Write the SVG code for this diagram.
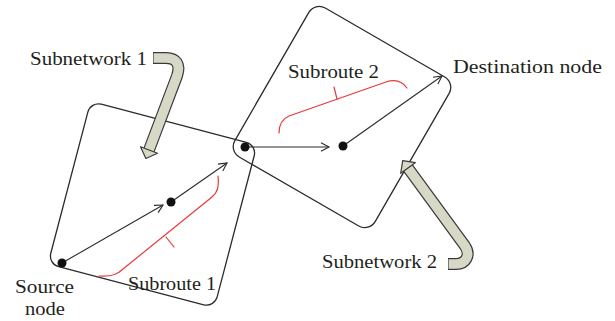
<svg xmlns="http://www.w3.org/2000/svg" width="615" height="321" viewBox="0 0 615 321">
  <style>
    .box { fill: none; stroke: #2b2b2b; stroke-width: 1.3; }
    .link { fill: none; stroke: #2b2b2b; stroke-width: 1.1; marker-end: url(#open); }
    .dot { fill: #111; }
    .brace { fill: none; stroke: #e8393c; stroke-width: 1.2; stroke-linecap: round; stroke-linejoin: round; }
    .label { font-family: "Liberation Serif", "Times New Roman", serif; font-size: 18px; fill: #231f20; }
    .fat-edge { fill: none; stroke: #3a3a3a; stroke-width: 12; }
    .fat-fill { fill: none; stroke: #d7d9c6; stroke-width: 9.6; }
    .fat-head { fill: #d7d9c6; stroke: #3a3a3a; stroke-width: 1.2; stroke-linejoin: round; }
  </style>
  <defs>
    <marker id="open" markerUnits="userSpaceOnUse" markerWidth="12" markerHeight="12" viewBox="-10 -6 12 12" refX="0" refY="0" orient="auto">
      <path d="M-8,-4.2 L0,0 L-8,4.2" fill="none" stroke="#2b2b2b" stroke-width="1.1"/>
    </marker>
  </defs>

  <!-- subnetwork regions -->
  <g id="subnetwork-1">
    <rect class="box" x="-86" y="-84" width="172" height="168" rx="11" transform="translate(152.5,204.5) rotate(14.7)"/>
  </g>
  <g id="subnetwork-2">
    <rect class="box" x="-81" y="-86" width="162" height="172" rx="12" transform="translate(342,117) rotate(30)"/>
  </g>

  <!-- route links -->
  <g id="connectors">
    <path class="link" d="M62,263 L163,205"/>
    <path class="link" d="M171,202 L227,163"/>
    <path class="link" d="M245,147 L329,147"/>
    <path class="link" d="M343,146 L442,76"/>
  </g>

  <!-- route nodes -->
  <g id="source-node">
    <circle class="dot" cx="62" cy="263" r="4.5"/>
    <text class="label" x="15" y="293" textLength="59" lengthAdjust="spacingAndGlyphs">Source</text>
    <text class="label" x="25" y="315" textLength="40" lengthAdjust="spacingAndGlyphs">node</text>
  </g>
  <g id="relay-node-1">
    <circle class="dot" cx="171" cy="202" r="4.5"/>
  </g>
  <g id="border-node">
    <circle class="dot" cx="245" cy="147" r="4.5"/>
  </g>
  <g id="relay-node-2">
    <circle class="dot" cx="343" cy="146" r="4.5"/>
  </g>
  <g id="destination-node">
    <text class="label" x="453" y="73" textLength="149" lengthAdjust="spacingAndGlyphs">Destination node</text>
  </g>

  <!-- subroute braces -->
  <g id="subroute-1">
    <path class="brace" d="M218,176 C219,186 218,192 212,197 L123,269 C118,274 112,277 99,276"/>
    <path class="brace" d="M166,237 L174,247"/>
    <text class="label" x="128" y="290" textLength="88" lengthAdjust="spacingAndGlyphs">Subroute 1</text>
  </g>
  <g id="subroute-2">
    <path class="brace" d="M279,133 C279,126 282,119 289,116 L386,82 C395,79 402,81 407,88"/>
    <path class="brace" d="M337,99 L334,87"/>
    <text class="label" x="288" y="78" textLength="91" lengthAdjust="spacingAndGlyphs">Subroute 2</text>
  </g>

  <!-- callout arrows -->
  <g id="callout-subnetwork-1">
    <path class="fat-edge" d="M153,58 L166,58 C176,58 181,64 177,76 L149,150"/>
    <path class="fat-fill" d="M153.6,58 L166,58 C176,58 181,64 177,76 L149,150"/>
    <polygon class="fat-head" points="157.5,153.2 145.9,158.5 140.5,146.8"/>
    <text class="label" x="30" y="65" textLength="117" lengthAdjust="spacingAndGlyphs">Subnetwork 1</text>
  </g>
  <g id="callout-subnetwork-2">
    <path class="fat-edge" d="M448,264 L456,264 C466,264 471,255 465,246 L408,168"/>
    <path class="fat-fill" d="M448.6,264 L456,264 C466,264 471,255 465,246 L408,168"/>
    <polygon class="fat-head" points="415.3,162.7 402.7,160.7 400.7,173.3"/>
    <text class="label" x="322" y="268" textLength="115" lengthAdjust="spacingAndGlyphs">Subnetwork 2</text>
  </g>
</svg>
